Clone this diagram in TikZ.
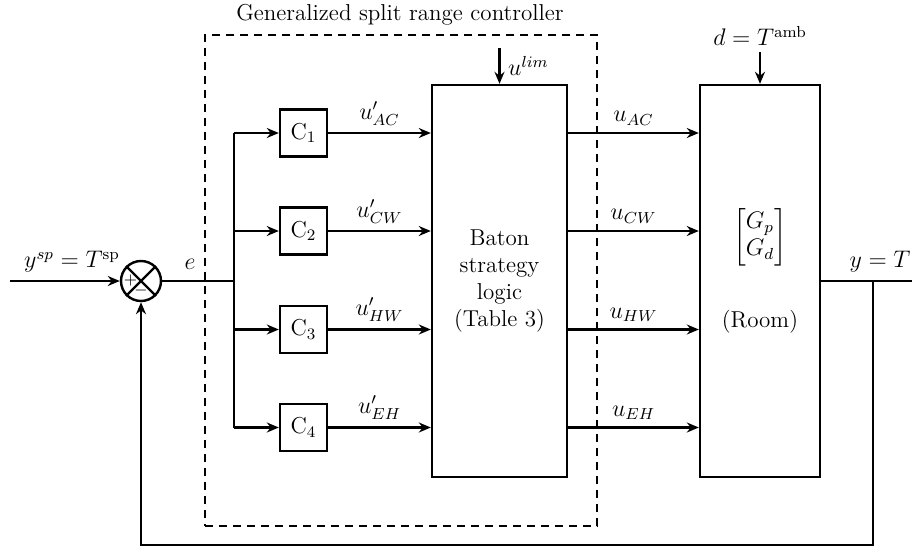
\documentclass[tikz,border=0pt]{standalone}
\usepackage{amsmath}
\usetikzlibrary{arrows.meta}
\begin{document}
\begin{tikzpicture}[x=0.5pt,y=-0.5pt,
  font=\fontsize{11.5}{13.5}\selectfont,
  line width=1.2pt,
  >={Stealth[length=6pt,width=5pt]},
  blk/.style={draw, line width=1.2pt, inner sep=0pt},
  cbox/.style={blk, minimum width=23.5pt, minimum height=23.5pt},
  dashbox/.style={draw, line width=1.2pt, dash pattern=on 4pt off 3pt, inner sep=0pt}]
\useasboundingbox (0,0) rectangle (912,547);

% dashed controller frame
\node[dashbox, minimum width=196pt, minimum height=245.5pt] (gsrc) at (401,280.5) {};
\node (title) at (400,15) {Generalized split range controller};

% summing junction
\node[draw, circle, minimum size=20pt, inner sep=0pt] (sum) at (141,281) {};
\draw (sum.north west) -- (sum.south east);
\draw (sum.north east) -- (sum.south west);
\node[font=\footnotesize, inner sep=0pt] (plus) at (130.5,280) {$+$};
\node[font=\footnotesize, inner sep=0pt] (minus) at (141,290.5) {$-$};

% controllers
\node[cbox] (c1) at (303.5,133) {C$_1$};
\node[cbox] (c2) at (303.5,231) {C$_2$};
\node[cbox] (c3) at (303.5,329.5) {C$_3$};
\node[cbox] (c4) at (303.5,427.5) {C$_4$};

% baton logic
\node[blk, minimum width=67.5pt, minimum height=196pt, align=center] (baton) at (499.5,281)
  {Baton\\strategy\\logic\\(Table 3)};

% room
\node[blk, minimum width=60pt, minimum height=196pt] (room) at (760,281) {};
\node (gmat) at (760,237) {$\begin{bmatrix}G_p\\G_d\end{bmatrix}$};
\node (roomlbl) at (760,322) {(Room)};

% input
\coordinate (in) at (10,281);
\draw[->] (in) -- (sum.west);
\node (ysp) at (72,262) {$y^{sp} = T^{\mathrm{sp}}$};

% error and branching
\coordinate (br) at (234,281);
\draw (sum.east) -- (br);
\node (elbl) at (190,264) {$e$};
\coordinate (b1) at (234,133);
\coordinate (b4) at (234,427.5);
\draw (b1) -- (b4);
\draw[->] (b1) -- (c1.west);
\draw[->] (c2.west -| br) -- (c2.west);
\draw[->] (c3.west -| br) -- (c3.west);
\draw[->] (b4) -- (c4.west);

% controller outputs
\draw[->] (c1.east) -- (c1.east -| baton.west) node[midway, above] {$u'_{AC}$};
\draw[->] (c2.east) -- (c2.east -| baton.west) node[midway, above] {$u'_{CW}$};
\draw[->] (c3.east) -- (c3.east -| baton.west) node[midway, above] {$u'_{HW}$};
\draw[->] (c4.east) -- (c4.east -| baton.west) node[midway, above] {$u'_{EH}$};

% u lim
\coordinate (ulimtop) at (499.5,48);
\draw[->] (ulimtop) -- (baton.north);
\node[anchor=west, inner sep=0pt] (ulim) at (507,66) {$u^{lim}$};

% baton outputs
\draw[->] (c1.east -| baton.east) -- (c1.east -| room.west) node[midway, above] {$u_{AC}$};
\draw[->] (c2.east -| baton.east) -- (c2.east -| room.west) node[midway, above] {$u_{CW}$};
\draw[->] (c3.east -| baton.east) -- (c3.east -| room.west) node[midway, above] {$u_{HW}$};
\draw[->] (c4.east -| baton.east) -- (c4.east -| room.west) node[midway, above] {$u_{EH}$};

% disturbance
\node (dlbl) at (760,36) {$d = T^{\mathrm{amb}}$};
\coordinate (dtop) at (760,52);
\draw[->] (dtop) -- (room.north);

% output and feedback
\coordinate (outend) at (912,281);
\draw (room.east) -- (outend);
\node (ylbl) at (880,262) {$y = T$};
\coordinate (fb) at (873,281);
\coordinate (fbb) at (873,545);
\coordinate (sb) at (141,545);
\draw[->] (fb) -- (fbb) -- (sb) -- (sum.south);
\end{tikzpicture}
\end{document}
